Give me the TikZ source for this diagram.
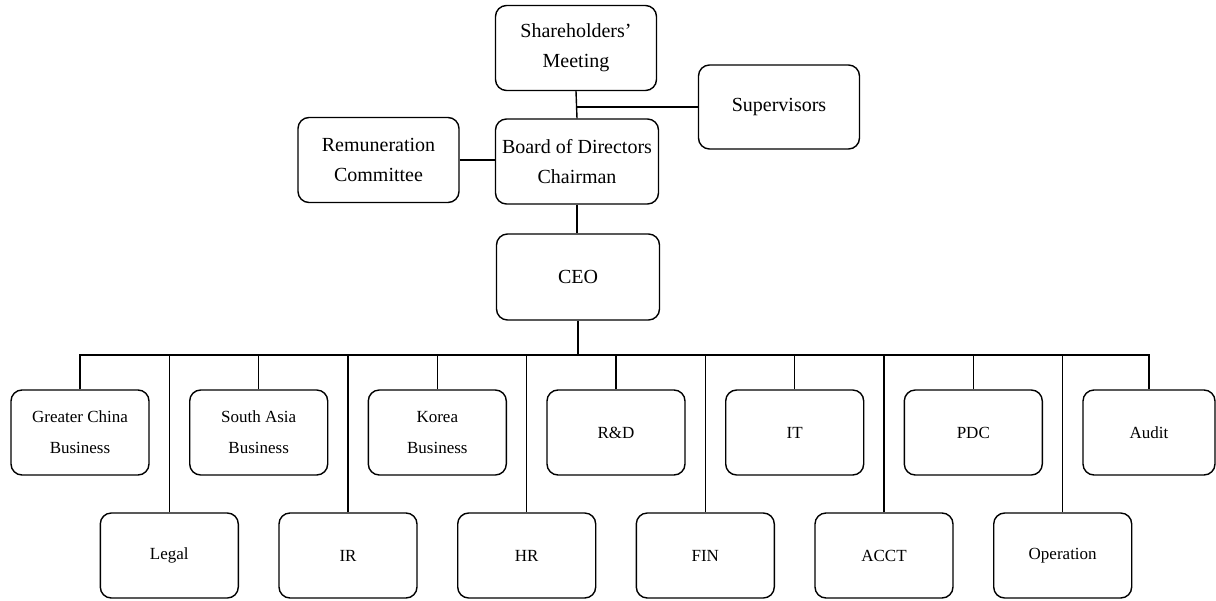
\documentclass[tikz,border=0pt]{standalone}
\usepackage{fontspec}
\setmainfont{Liberation Serif}
\begin{document}
\begin{tikzpicture}[x=1pt,y=-1pt,
  box/.style={draw=black, line width=1.4pt, rounded corners=11pt, align=center, inner sep=1pt},
  topbox/.style={box, minimum width=161pt, minimum height=85pt, font=\fontsize{20}{30}\selectfont},
  unitbox/.style={box, minimum width=138pt, minimum height=85pt, font=\fontsize{17}{31}\selectfont},
  link/.style={line width=1.4pt}]
\useasboundingbox (0,0) rectangle (1216,600);
\fill[white] (0,0) rectangle (1216,600);
% upper levels
\node[topbox] (sh)  at (576,48)    {Shareholders'\\Meeting};
\node[topbox, minimum height=84pt] (sup) at (779,107) {Supervisors};
\node[topbox] (rem) at (378.5,160) {Remuneration\\Committee};
\node[topbox, minimum width=163pt] (bod) at (577,161.5) {Board of Directors\\Chairman};
\node[topbox, minimum width=163pt, minimum height=86pt] (ceo) at (578,277) {CEO};
\coordinate (bus) at (0,355);
% top row units
\node[unitbox] (gc) at (80,432.5)    {Greater China\\Business};
\node[unitbox] (sa) at (258.7,432.5) {South Asia\\Business};
\node[unitbox] (ko) at (437.3,432.5) {Korea\\Business};
\node[unitbox] (rd) at (616,432.5)   {R\&D};
\node[unitbox] (it) at (794.7,432.5) {IT};
\node[unitbox] (pdc) at (973.3,432.5) {PDC};
\node[unitbox, minimum width=132pt] (au) at (1149,432.5) {Audit};
% bottom row units
\node[unitbox] (lg) at (169.3,555.5) {Legal};
\node[unitbox] (ir) at (348,555.5)   {IR};
\node[unitbox] (hr) at (526.7,555.5) {HR};
\node[unitbox] (fin) at (705.3,555.5) {FIN};
\node[unitbox] (acct) at (884,555.5) {ACCT};
\node[unitbox] (op) at (1062.7,555.5) {Operation};
% connectors
\draw[link] (sh.south) -- (bod.north);
\coordinate (supj) at (sh.south |- sup.west);
\draw[link] (sup.west) -- (supj);
\draw[link] (rem.east) -- (rem.east -| bod.west);
\draw[link] (bod.south) -- (ceo.north -| bod.south);
\draw[link] (ceo.south) -- (ceo.south |- bus);
\draw[link] (gc.north) -- (gc.north |- bus) -- (au.north |- bus) -- (au.north);
\foreach \n in {sa,ko,rd,it,pdc,lg,ir,hr,fin,acct,op}
  \draw[link] (\n.north) -- (\n.north |- bus);
\end{tikzpicture}
\end{document}
